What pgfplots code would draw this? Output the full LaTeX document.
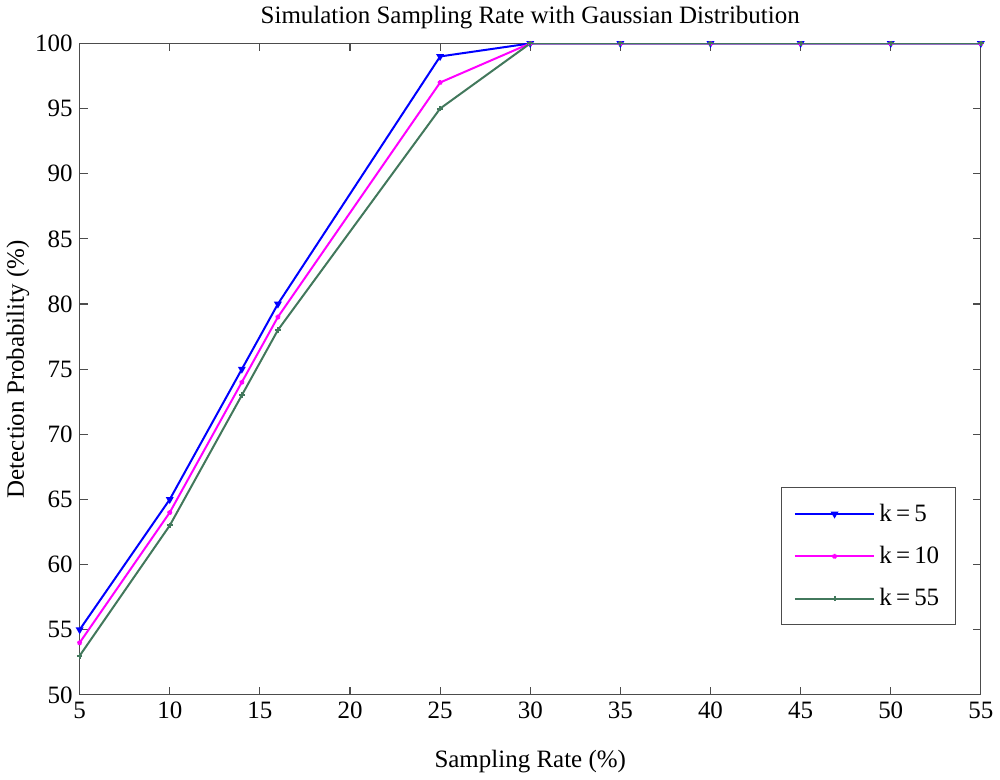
\documentclass[border=0pt]{standalone}
\usepackage{pgfplots}
\pgfplotsset{compat=1.18}
\usepackage{fontspec}
\setmainfont{Liberation Serif}
\definecolor{kgreen}{RGB}{66,120,92}
\definecolor{kmag}{RGB}{255,0,255}
\definecolor{kblue}{RGB}{0,0,255}

\begin{document}
\begin{tikzpicture}
\begin{axis}[
    scale only axis,
    width=451pt, height=326pt,
    xmin=5, xmax=55, ymin=50, ymax=100,
    xtick={5,10,...,55},
    ytick={50,55,...,100},
    tick align=inside,
    major tick length=4pt,
    axis line style={black!70, line width=0.6pt},
    every tick/.style={black!70, line width=0.6pt},
    tick label style={font=\fontsize{12.5}{14}\selectfont},
    label style={font=\fontsize{12.5}{14}\selectfont},
    title style={font=\fontsize{12.5}{14}\selectfont, yshift=-2.5pt},
    /pgf/number format/assume math mode=true,
    title={Simulation Sampling Rate with Gaussian Distribution},
    xlabel={Sampling Rate (\%)},
    ylabel={Detection Probability (\%)},
    xlabel style={yshift=-9pt},
    ylabel style={yshift=-4pt},
    legend style={at={(0.972,0.107)}, anchor=south east, draw=black!70,
        font=\fontsize{12.5}{14}\selectfont, row sep=7pt,
        inner xsep=6pt, inner ysep=6pt},
    legend cell align=left,
    legend image code/.code={
        \draw[#1, line width=1pt] (0cm,0cm) -- (1.4cm,0cm);
        \draw[#1, only marks] plot coordinates {(0.7cm,0cm)};
    },
]
\addplot[kblue, line width=1pt, mark=triangle*, mark size=1.3pt, mark options={rotate=180}] coordinates {
    (5,55) (10,65) (14,75) (16,80) (25,99) (30,100) (35,100) (40,100) (45,100) (50,100) (55,100)
};
\addlegendentry{k\,=\,5}
\addplot[kmag, line width=1pt, mark=star, mark size=1.2pt] coordinates {
    (5,54) (10,64) (14,74) (16,79) (25,97) (30,100) (35,100) (40,100) (45,100) (50,100) (55,100)
};
\addlegendentry{k\,=\,10}
\addplot[kgreen, line width=1pt, mark=+, mark size=1.4pt] coordinates {
    (5,53) (10,63) (14,73) (16,78) (25,95) (30,100) (35,100) (40,100) (45,100) (50,100) (55,100)
};
\addlegendentry{k\,=\,55}
\end{axis}
\end{tikzpicture}
\end{document}
